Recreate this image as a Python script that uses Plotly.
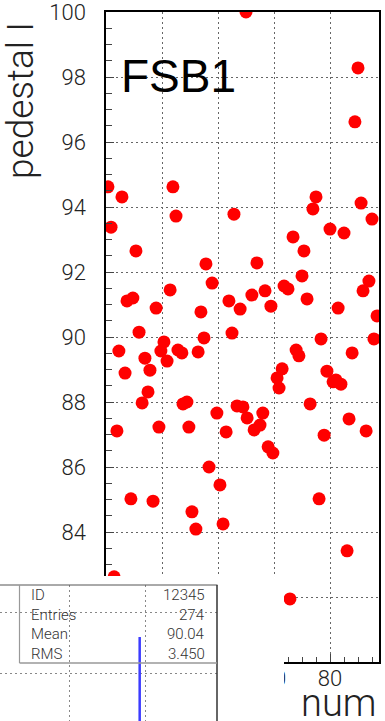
import plotly.graph_objects as go

W, H = 385, 721

# pedestal value per channel number
num = [0.7, 1.8, 2.9, 3.9, 4.6, 5.7, 6.8, 7.5, 8.9, 9.6,
       10.7, 11.8, 12.9, 13.9, 15.0, 15.7, 16.8, 17.9, 18.9, 19.6,
       20.7, 21.8, 22.9, 23.9, 25.0, 25.7, 27.1, 27.5, 28.9, 29.6,
       30.7, 32.1, 32.9, 33.9, 35.0, 35.7, 36.8, 37.9, 39.6, 40.7,
       41.8, 42.9, 43.9, 45.0, 45.7, 46.8, 47.9, 48.9, 50.0, 50.4,
       52.1, 52.9, 53.9, 55.0, 56.0, 56.8, 57.9, 58.9, 59.6, 61.1,
       61.8, 62.9, 63.6, 65.0, 65.7, 66.8, 67.9, 68.9, 70.0, 70.7,
       71.8, 72.9, 73.9, 75.0, 76.1, 76.8, 77.9, 78.9, 80.0, 81.1,
       82.1, 82.9, 83.9, 85.0, 86.1, 86.8, 87.9, 88.9, 90.0, 91.1,
       91.8, 92.9, 93.9, 95.0, 95.7, 96.8]
pedestal = [94.62, 93.38, 82.62, 87.11, 89.57, 94.31, 88.89, 91.11, 85.02, 91.20,
            92.65, 90.15, 87.97, 89.35, 88.31, 88.98, 84.95, 90.89, 87.23, 89.57,
            89.85, 89.26, 91.45, 94.62, 93.72, 89.60, 89.51, 87.94, 88.00, 87.23,
            84.62, 84.09, 89.54, 90.77, 89.97, 92.25, 86.00, 91.66, 87.66, 85.45,
            84.25, 87.08, 91.11, 90.12, 93.78, 87.88, 90.86, 87.85, 100.0, 87.51,
            91.29, 87.14, 92.28, 87.29, 87.66, 91.42, 86.62, 90.95, 86.43, 88.74,
            88.43, 89.02, 91.57, 91.48, 81.94, 93.08, 89.60, 89.42, 91.88, 92.65,
            91.17, 87.94, 93.94, 94.31, 85.02, 89.94, 86.98, 88.95, 93.32, 88.62,
            88.68, 90.89, 88.55, 93.20, 83.42, 87.48, 89.51, 96.62, 98.28, 94.12,
            91.42, 87.11, 91.72, 93.63, 89.94, 90.65]

x_range = [0, 97.5]
y_range = [80, 100]

# statistics box of the histogram pad
stats_labels = ["ID", "Entries", "Mean", "RMS"]
stats_values = ["12345", "274", "90.04", "3.450"]

# visible edge of the histogram in the lower pad
hist_edge_x = [0.93, 0.93]
hist_edge_y = [0.0, 1.59]


def px_x(p):
    return p / W


def px_y(p):
    return 1 - p / H


LIGHT = dict(family="Roboto, Liberation Sans, sans-serif", weight=300, color="#222")

fig = go.Figure()

fig.add_trace(go.Scatter(
    x=num, y=pedestal, mode="markers",
    marker=dict(color="#ff0000", size=13, line=dict(width=0)),
    xaxis="x", yaxis="y", cliponaxis=True, showlegend=False,
))

fig.add_trace(go.Scatter(
    x=hist_edge_x, y=hist_edge_y, mode="lines",
    line=dict(color="#3b3bff", width=2.5),
    xaxis="x2", yaxis="y2", showlegend=False,
))

axis_common = dict(
    showline=True, mirror=True, linecolor="black", linewidth=1.5,
    zeroline=False, showgrid=True, gridcolor="#666", gridwidth=1,
    griddash="2px,3px", ticks="inside", tickcolor="#444", ticklen=8,
    tickfont=dict(size=22, **LIGHT), automargin=False,
    ticklabeloverflow="allow",
)

fig.update_layout(
    width=W, height=H, template="none",
    margin=dict(l=0, r=0, t=0, b=0),
    paper_bgcolor="white", plot_bgcolor="white",
    xaxis=dict(
        domain=[px_x(106), px_x(379)], range=x_range,
        tick0=0, dtick=20, ticklabelstandoff=-4,
        minor=dict(dtick=5, ticks="inside", ticklen=5, tickcolor="#444", showgrid=False),
        anchor="y", **axis_common,
    ),
    yaxis=dict(
        domain=[px_y(662), px_y(12)], range=y_range,
        tick0=80, dtick=2, ticklabelstandoff=14,
        minor=dict(dtick=0.5, ticks="inside", ticklen=6, tickcolor="#444", showgrid=False),
        anchor="x", **axis_common,
    ),
    xaxis2=dict(
        domain=[0, px_x(217)], range=[-0.9079, 1.9474], anchor="y2",
        tick0=0, dtick=1, showticklabels=False, ticks="", showline=False,
        zeroline=False, showgrid=True, gridcolor="#888", griddash="2px,3px",
        automargin=False,
    ),
    yaxis2=dict(
        domain=[0, px_y(585)], range=[0.2131, 2.4426], anchor="x2",
        tick0=0, dtick=1, showticklabels=False, ticks="", showline=False,
        zeroline=False, showgrid=True, gridcolor="#888", griddash="2px,3px",
        automargin=False,
    ),
)

shapes = [
    # white cover between the two pads
    dict(type="rect", xref="paper", yref="paper", x0=0, x1=px_x(284),
         y0=px_y(585), y1=px_y(576), fillcolor="white", line=dict(width=0), layer="above"),
    dict(type="rect", xref="paper", yref="paper", x0=px_x(217), x1=px_x(284),
         y0=0, y1=px_y(585), fillcolor="white", line=dict(width=0), layer="above"),
    # lower pad border
    dict(type="line", xref="paper", yref="paper", x0=0, x1=px_x(217.5),
         y0=px_y(585), y1=px_y(585), line=dict(color="#555", width=1), layer="above"),
    dict(type="line", xref="paper", yref="paper", x0=px_x(217), x1=px_x(217),
         y0=0, y1=px_y(585), line=dict(color="#333", width=1.5), layer="above"),
    # stats box
    dict(type="line", xref="paper", yref="paper", x0=px_x(19.5), x1=px_x(19.5),
         y0=px_y(663), y1=px_y(585), line=dict(color="#999", width=1.2), layer="above"),
    dict(type="line", xref="paper", yref="paper", x0=px_x(19.5), x1=px_x(217),
         y0=px_y(663), y1=px_y(663), line=dict(color="#999", width=1.5), layer="above"),
]
fig.update_layout(shapes=shapes)

annotations = [
    dict(text="FSB1", x=px_x(119), y=px_y(76), xanchor="left", yanchor="middle",
         font=dict(family="Liberation Sans, Arial, sans-serif", size=46, color="black")),
    dict(text="pedestal I", textangle=-90, x=px_x(21), y=px_y(101),
         xanchor="center", yanchor="middle", font=dict(size=37, **LIGHT)),
    dict(text="num", x=px_x(378), y=px_y(703), xanchor="right", yanchor="middle",
         font=dict(size=38, **LIGHT)),
]
row_y = [595, 614.5, 634, 654]
for lab, val, ry in zip(stats_labels, stats_values, row_y):
    annotations.append(dict(text=lab, x=px_x(29), y=px_y(ry), xanchor="left", yanchor="middle",
                            font=dict(size=15, family=LIGHT["family"], weight=300, color="#333")))
    annotations.append(dict(text=val, x=px_x(207), y=px_y(ry), xanchor="right", yanchor="middle",
                            font=dict(size=15, family=LIGHT["family"], weight=300, color="#333")))
for a in annotations:
    a.update(xref="paper", yref="paper", showarrow=False)
fig.update_layout(annotations=annotations)

fig.write_html("out.html")
